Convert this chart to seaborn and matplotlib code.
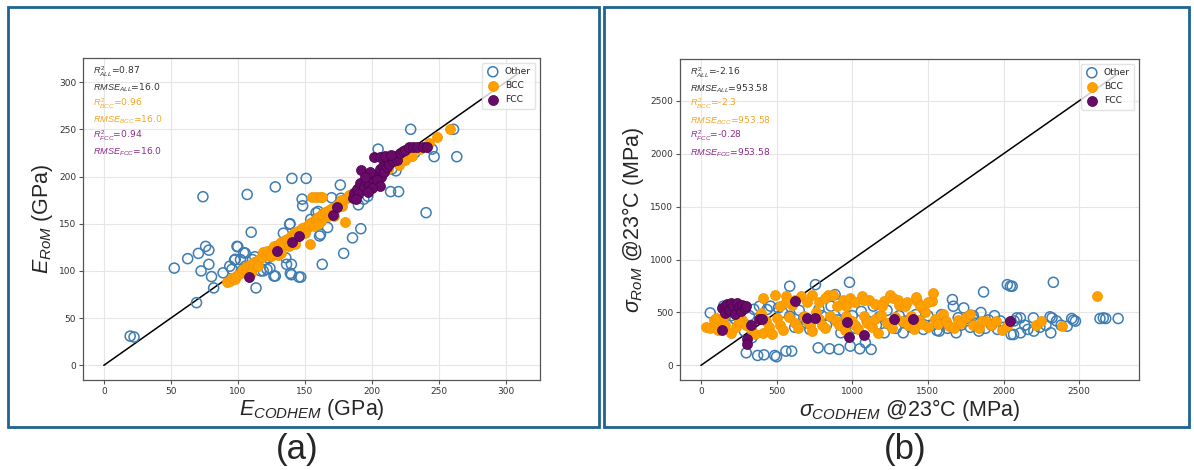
import matplotlib
matplotlib.use("Agg")
import matplotlib.pyplot as plt
import seaborn as sns
from matplotlib.patches import Rectangle

# ---------------- data: panel (a) Young's modulus (GPa) ----------------
a_other_x = [19.7, 22.6, 69.2, 52.6, 62.6, 70.6, 76, 78.4, 74, 72.6, 78.4, 80.4, 82, 89, 97.6, 100, 102,
             105.5, 107, 110, 113.6, 111, 112.7, 117, 119, 124, 127, 128, 128, 135.8, 136.4, 140, 140,
             145.6, 147, 140.4, 151, 139, 148, 148.4, 163, 161, 167, 160, 170, 177, 176.5, 179, 185.6,
             191.8, 190, 204.7, 214, 220, 218, 229, 240.5, 246.5, 245, 261, 263.4, 150, 154.4, 158.4,
             143, 134, 122.7, 105.5, 94, 102.6, 211, 208, 201, 197, 194, 99.4, 104.3, 98.1, 95.6,
             121.8, 139.2, 161.7, 138.7, 120, 125, 135, 145, 155, 165, 175, 185, 195, 205, 215, 225, 232]
a_other_y = [31, 30, 66.4, 103, 113, 118.6, 126, 122, 178.6, 100, 107, 94, 82, 98, 111.5, 125.7, 112,
             119, 181, 141, 82, 112, 115, 100, 100, 103, 94.6, 94.6, 189, 114, 107, 107, 96,
             93.5, 93.5, 198, 198, 150, 176, 169, 107, 137, 146, 163, 177.5, 177, 191, 118.6, 135,
             144.7, 170, 229, 184, 184, 206, 250, 161.7, 221, 229, 250, 221, 144, 154.6, 161.6,
             133, 140, 114, 105, 105, 100, 211, 204, 190, 179, 176, 126, 119.4, 112.3, 101.7,
             101.7, 97.5, 138.8, 149.4, 112, 118, 128, 138, 150, 160, 170, 180, 188, 200, 208, 222, 225]

a_bcc_x = [92, 94, 96, 98, 99, 101, 103, 104, 106, 107, 109, 111, 112, 114, 116, 118, 119, 121, 122, 124,
           126, 127, 129, 131, 132, 134, 135, 137, 139, 140, 142, 143, 145, 147, 148, 150, 152, 153, 155,
           157, 158, 160, 162, 163, 165, 167, 168, 170, 172, 174, 176, 178, 180, 183, 186, 188, 190, 195,
           200, 205, 212, 220, 225, 230, 236, 241, 243, 249, 258, 155, 158, 161, 163, 154, 180, 132, 143,
           130, 177, 172, 110, 115, 125, 138, 150, 160]
a_bcc_y = [88, 89, 92, 91, 95, 97, 99, 102, 101, 105, 106, 104, 109, 110, 113, 115, 120, 117, 121, 119,
           124, 126, 123, 128, 131, 129, 133, 134, 130, 137, 140, 136, 142, 141, 145, 147, 145, 150, 152,
           148, 155, 157, 153, 160, 162, 158, 165, 167, 164, 170, 172, 169, 176, 180, 183, 185, 188, 192,
           196, 200, 208, 212, 218, 222, 229, 232, 236, 242, 250, 178, 178, 178, 178, 128, 152, 119, 128,
           117, 175, 158, 98, 105, 116, 126, 140, 150]

a_fcc_x = [108.4, 129, 140.4, 145.6, 171, 174, 186, 187, 189, 191, 192, 194, 196, 198, 200, 202, 203, 205,
           206, 207, 208, 209, 210, 211, 212, 213, 215, 216, 218, 219, 221, 223, 225, 228, 231, 234, 238,
           241, 206, 210, 214, 199, 195, 190, 188, 204, 206, 200, 197]
a_fcc_y = [93.5, 121, 131, 137, 158.8, 168, 177, 183, 187, 193, 206.8, 189, 195, 192, 198, 220.6, 201, 204,
           208, 199, 211, 205, 214, 210, 218, 213, 220, 216, 222, 218, 225, 227, 228, 231, 231, 231, 231,
           231, 221, 222, 223, 205, 200, 181, 176, 196, 190, 188, 184]

a_line_end = 310
a_ticks = [0, 50, 100, 150, 200, 250, 300]
a_stats = ["0.87", "16.0", "0.96", "16.0", "0.94", "16.0"]

# ---------------- data: panel (b) yield strength @23°C (MPa) ----------------
b_other_x = [62, 112, 150, 175, 200, 225, 260, 287, 300, 337, 320, 350, 375, 387, 417, 437, 460, 488, 500,
             512, 540, 562, 587, 587, 600, 620, 650, 680, 700, 720, 757, 775, 780, 800, 830, 850, 860, 887,
             900, 912, 925, 940, 960, 982, 987, 1000, 1020, 1050, 1060, 1087, 1100, 1125, 1140, 1160, 1180,
             1212, 1230, 1260, 1290, 1310, 1337, 1360, 1390, 1420, 1440, 1470, 1500, 1530, 1560, 1575, 1590,
             1610, 1630, 1662, 1668, 1687, 1700, 1720, 1737, 1750, 1780, 1800, 1820, 1837, 1850, 1868, 1880,
             1900, 1920, 1940, 1960, 1980, 2000, 2025, 2045, 2050, 2057, 2066, 2070, 2087, 2111, 2112, 2140,
             2160, 2197, 2200, 2240, 2280, 2307, 2312, 2320, 2329, 2350, 2380, 2420, 2450, 2461, 2475, 2637,
             2659, 2675, 2757]
b_other_y = [496, 433, 560, 520, 470, 440, 410, 324, 119, 261, 470, 530, 94, 559, 100, 528, 560, 94, 82,
             543, 500, 135, 748, 465, 135, 360, 520, 450, 400, 340, 763, 166, 530, 470, 380, 157, 560, 669,
             430, 151, 308, 520, 380, 785, 182, 470, 350, 157, 510, 214, 420, 151, 560, 380, 460,
             308, 520, 400, 350, 470, 308, 420, 360, 480, 400, 340, 470, 380, 330, 324, 480,
             400, 350, 622, 559, 308, 450, 380, 543, 420, 360, 470, 400, 324, 500, 694, 350,
             430, 380, 470, 340, 420, 360, 763, 749, 292, 748, 292, 420, 449, 449, 308, 380,
             340, 449, 324, 360, 380, 459, 308, 449, 785, 420, 380, 370, 443, 427, 418, 443,
             449, 443, 443]

b_bcc_x = [37, 62, 87, 112, 130, 162, 200, 230, 275, 300, 330, 360, 400, 412, 412, 430, 450, 470, 487, 500,
           520, 540, 562, 580, 600, 620, 640, 662, 680, 700, 720, 737, 737, 760, 780, 800, 820, 837, 850,
           875, 890, 910, 937, 950, 960, 987, 1000, 1020, 1040, 1062, 1080, 1100, 1112, 1130, 1150, 1170,
           1190, 1212, 1230, 1250, 1260, 1280, 1312, 1330, 1350, 1370, 1390, 1410, 1425, 1440, 1460, 1480,
           1500, 1525, 1537, 1550, 1570, 1600, 1620, 1640, 1675, 1700, 1720, 1750, 1775, 1800, 1837, 1860,
           1887, 1920, 1950, 1987, 2025, 2212, 2250, 2387, 2617, 100, 150, 250, 520, 560, 620, 700, 780,
           820, 900, 960, 1020, 1080, 1150, 1200, 1270, 1300, 1360, 1420, 1450, 1500]
b_bcc_y = [364, 355, 433, 339, 420, 386, 308, 360, 433, 380, 340, 300, 496, 308, 638, 420, 360, 300, 669,
           450, 380, 330, 653, 460, 575, 400, 350, 653, 470, 420, 380, 669, 324, 500, 440, 380, 350, 669,
           470, 669, 420, 380, 622, 330, 470, 638, 420, 380, 340, 653, 470, 400, 622, 360, 440, 310,
           480, 606, 400, 669, 350, 460, 575, 420, 559, 380, 470, 340, 606, 430, 390, 500,
           360, 606, 685, 440, 390, 481, 420, 370, 355, 430, 400, 460, 481, 380, 355, 420,
           418, 380, 420, 339, 371, 386, 418, 371, 660, 450, 470, 420, 560, 600, 620, 600, 600,
           640, 560, 560, 600, 620, 580, 560, 640, 620, 600, 650, 560, 600]

b_fcc_x = [137, 162, 162, 175, 187, 200, 212, 225, 237, 250, 262, 275, 290, 300, 142, 332, 305, 305, 387,
           407, 625, 700, 757, 967, 982, 1075, 1275, 1400, 2042]
b_fcc_y = [543, 559, 496, 580, 528, 590, 560, 481, 590, 550, 512, 575, 540, 559, 333, 386, 245, 198, 440,
           440, 606, 449, 449, 408, 270, 283, 440, 440, 418]

b_line_end = 2757
b_ticks = [0, 500, 1000, 1500, 2000, 2500]
b_stats = ["-2.16", "953.58", "-2.3", "953.58", "-0.28", "953.58"]

groups = ["Other", "BCC", "FCC"]
stat_names = [r"$R^2_{ALL}$", r"$RMSE_{ALL}$", r"$R^2_{BCC}$", r"$RMSE_{BCC}$", r"$R^2_{FCC}$", r"$RMSE_{FCC}$"]

# ---------------- style ----------------
C_OTHER = "#3d7db3"
C_BCC = "#ffa000"
C_FCC = "#680a68"
STAT_COLORS = ["#333333", "#333333", "#f5a425", "#f5a425", "#8c2a8c", "#8c2a8c"]

sns.set_style("whitegrid")
plt.rcParams["font.family"] = ["DejaVu Sans"]
plt.rcParams["mathtext.fontset"] = "custom"
plt.rcParams["mathtext.rm"] = "Liberation Sans"
plt.rcParams["mathtext.it"] = "Liberation Sans:italic"
plt.rcParams["mathtext.bf"] = "Liberation Sans:bold"

fig = plt.figure(figsize=(11.94, 4.70), dpi=100)
ax_a = fig.add_axes([83 / 1194, 90 / 470, 457 / 1194, 322 / 470])
ax_b = fig.add_axes([680 / 1194, 90 / 470, 459 / 1194, 321 / 470])


def panel(ax, ox, oy, bx, by, fx, fy, line_end, ticks, stats, xlabel, ylabel):
    sns.lineplot(x=[0, line_end], y=[0, line_end], ax=ax, color="black", lw=1.1, zorder=1)
    sns.scatterplot(x=ox, y=oy, ax=ax, s=52, color=C_OTHER, zorder=2)
    coll = ax.collections[-1]
    coll.set_facecolor("none")
    coll.set_edgecolor(C_OTHER)
    coll.set_linewidth(1.1)
    coll.set_label(groups[0])
    sns.scatterplot(x=bx, y=by, ax=ax, s=52, color=C_BCC, edgecolor="#f29500", linewidth=0.5,
                    zorder=3, label=groups[1])
    sns.scatterplot(x=fx, y=fy, ax=ax, s=52, color=C_FCC, edgecolor="#4e004e", linewidth=0.5,
                    zorder=4, label=groups[2])
    ax.set_xticks(ticks)
    ax.set_yticks(ticks)
    ax.grid(True, color="#e6e6e6", lw=0.8)
    for sp in ax.spines.values():
        sp.set_color("#555555")
        sp.set_linewidth(0.9)
    ax.tick_params(axis="both", labelsize=6.5, length=3, width=0.8, color="#555555",
                   labelcolor="#333333", pad=2, left=True, bottom=True)
    ax.set_xlabel(xlabel, fontsize=15.5, family="Liberation Sans", labelpad=1)
    ax.set_ylabel(ylabel, fontsize=15.5, family="Liberation Sans", labelpad=3)
    for i, (name, val) in enumerate(zip(stat_names, stats)):
        ax.text(0.022, 0.958 - i * 0.0497, f"{name}={val}", transform=ax.transAxes,
                va="center", ha="left", fontsize=6.6, color=STAT_COLORS[i])
    handles, labels = ax.get_legend_handles_labels()
    ax.legend(handles, labels, loc="upper right", fontsize=6.6, frameon=True, borderpad=0.5,
              handletextpad=0.6, labelspacing=0.55, borderaxespad=0.5, handlelength=1.4,
              framealpha=0.8, edgecolor="#dddddd")


panel(ax_a, a_other_x, a_other_y, a_bcc_x, a_bcc_y, a_fcc_x, a_fcc_y, a_line_end, a_ticks, a_stats,
      r"$E_{CODHEM}$ (GPa)", r"$E_{RoM}$ (GPa)")
panel(ax_b, b_other_x, b_other_y, b_bcc_x, b_bcc_y, b_fcc_x, b_fcc_y, b_line_end, b_ticks, b_stats,
      r"$\sigma_{CODHEM}$ @23°C (MPa)", r"$\sigma_{RoM}$ @23°C (MPa)")

# panel borders and captions
border = "#1f6390"
fig.add_artist(Rectangle((8 / 1194, 43 / 470), 591 / 1194, 420 / 470, transform=fig.transFigure,
                         fill=False, edgecolor=border, lw=2))
fig.add_artist(Rectangle((604 / 1194, 43 / 470), 585 / 1194, 420 / 470, transform=fig.transFigure,
                         fill=False, edgecolor=border, lw=2))
fig.text(297 / 1194, 20 / 470, "(a)", ha="center", va="center", fontsize=25, family="Liberation Sans")
fig.text(905 / 1194, 20 / 470, "(b)", ha="center", va="center", fontsize=25, family="Liberation Sans")

fig.savefig("out.png", dpi=100)
